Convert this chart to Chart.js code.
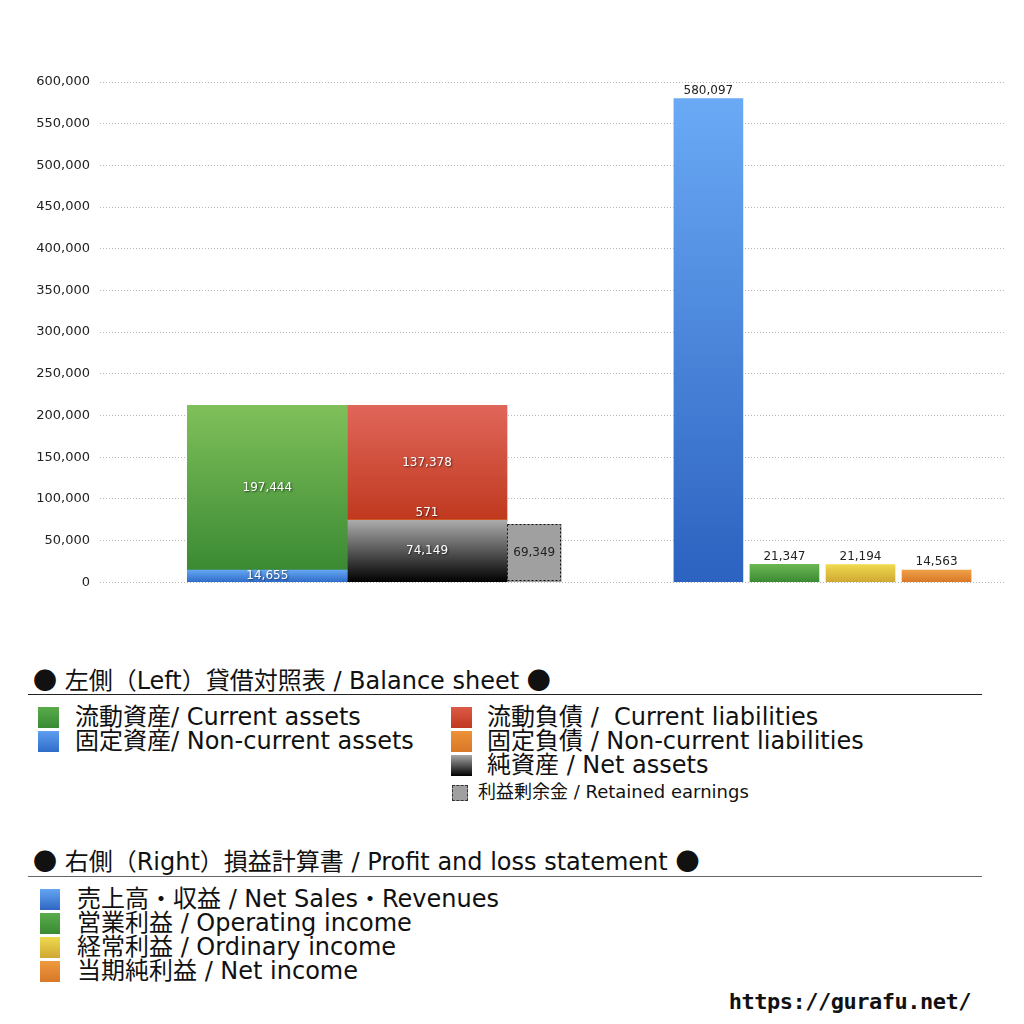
<!DOCTYPE html>
<html>
<head>
<meta charset="utf-8">
<script src="https://cdn.jsdelivr.net/npm/chart.js@4/dist/chart.umd.min.js"></script>
<style>
  body { margin: 0; background: #fff; font-family: "DejaVu Sans", "Noto Sans CJK JP", sans-serif; color: #111; }
  #wrap { position: absolute; left: 0; top: 0; width: 1024px; height: 600px; }
  .abs { position: absolute; white-space: nowrap; }
  .head { font-size: 24px; line-height: 24px; }
  .dot { font-family: "Noto Sans CJK JP", sans-serif; }
  .item { font-size: 24px; line-height: 24px; }
  .small { font-size: 18px; line-height: 18px; }
  .sq { position: absolute; width: 21px; height: 21px; }
  .rule { position: absolute; height: 1px; }
</style>
</head>
<body>
<div id="wrap"><canvas id="chart"></canvas></div>

<div class="abs head" style="left:33px; top:667px;"><span class="dot">●</span> 左側（Left）貸借対照表 / Balance sheet <span class="dot">●</span></div>
<div class="rule" style="left:28px; top:694px; width:954px; background:#222;"></div>

<div class="sq" style="left:38px; top:707px; background:linear-gradient(#5aab4a,#3a8a33);"></div>
<div class="abs item" style="left:75px; top:705px;">流動資産/ Current assets</div>
<div class="sq" style="left:38px; top:731px; background:linear-gradient(#5f9ef0,#2f6cc9);"></div>
<div class="abs item" style="left:75px; top:729px;">固定資産/ Non-current assets</div>

<div class="sq" style="left:451px; top:707px; background:linear-gradient(#dc5a48,#c0391f);"></div>
<div class="abs item" style="left:487px; top:705px;">流動負債 /&nbsp; Current liabilities</div>
<div class="sq" style="left:451px; top:731px; background:linear-gradient(#ec9238,#d87828);"></div>
<div class="abs item" style="left:487px; top:729px;">固定負債 / Non-current liabilities</div>
<div class="sq" style="left:451px; top:755px; background:linear-gradient(#a8a8a8,#000);"></div>
<div class="abs item" style="left:487px; top:753px;">純資産 / Net assets</div>
<div class="sq" style="left:452px; top:785px; width:14px; height:14px; background:#a0a0a0; border:1px dashed #333;"></div>
<div class="abs small" style="left:478px; top:783px;">利益剰余金 / Retained earnings</div>

<div class="abs head" style="left:33px; top:848px;"><span class="dot">●</span> 右側（Right）損益計算書 / Profit and loss statement <span class="dot">●</span></div>
<div class="rule" style="left:28px; top:876px; width:954px; background:#666;"></div>

<div class="sq" style="left:40px; top:889px; width:20px; background:linear-gradient(#64a6f2,#2f66c2);"></div>
<div class="abs item" style="left:77px; top:887px;">売上高・収益 / Net Sales・Revenues</div>
<div class="sq" style="left:40px; top:913px; width:20px; background:linear-gradient(#5aab4a,#3a8a33);"></div>
<div class="abs item" style="left:77px; top:911px;">営業利益 / Operating income</div>
<div class="sq" style="left:40px; top:937px; width:20px; background:linear-gradient(#efd94e,#cfa832);"></div>
<div class="abs item" style="left:77px; top:935px;">経常利益 / Ordinary income</div>
<div class="sq" style="left:40px; top:961px; width:20px; background:linear-gradient(#ee9a40,#d87828);"></div>
<div class="abs item" style="left:77px; top:959px;">当期純利益 / Net income</div>

<div class="abs" style="right:53px; top:989px; font-size:22px; font-weight:bold; font-family:'DejaVu Sans Mono','Noto Sans',sans-serif; letter-spacing:-0.5px;">https://gurafu.net/</div>

<script>
// 貸借対照表 (balance sheet)
const assetLabels = ['固定資産', '流動資産'];
const assetValues = [14655, 197444];
const liabilityLabels = ['純資産', '固定負債', '流動負債'];
const liabilityValues = [74149, 571, 137378];
const retainedLabel = ['利益剰余金'];
const retainedValue = [69349];

// 損益計算書 (profit and loss)
const plLabels = ['売上高・収益', '営業利益', '経常利益', '当期純利益'];
const plValues = [580097, 21347, 21194, 14563];

const yMax = 600000;
const yStep = 50000;

// slot positions on the hidden x scale
const slot = { assets: 2.2, liabilities: 4.3, retained: 5.71, pl: [8, 9, 10, 11] };

const assetColors = [['#64a6f2', '#2f6cc9'], ['#80c05a', '#3a8a33']];
const liabilityColors = [['#ababab', '#000000'], ['#ee9a40', '#d87828'], ['#e0665a', '#c0391f']];
const plColors = [['#6aaaf5', '#2c62c0'], ['#6ab752', '#3a8a33'], ['#efd94e', '#cfa832'], ['#f0a048', '#d87828']];

function vGrad(chart, from, to, cTop, cBottom) {
  const y = chart.scales.y;
  if (!chart.chartArea || !y) return cBottom;
  const yTop = y.getPixelForValue(to), yBot = y.getPixelForValue(from);
  if (!isFinite(yTop) || !isFinite(yBot) || Math.abs(yBot - yTop) < 0.5) return cBottom;
  const g = chart.ctx.createLinearGradient(0, yTop, 0, yBot);
  g.addColorStop(0, cTop);
  g.addColorStop(1, cBottom);
  return g;
}

function stackSets(labels, values, colors, x, stack, width, labelStyle) {
  let base = 0;
  return values.map((v, i) => {
    const from = base, to = base + v;
    base = to;
    return {
      label: labels[i], stack: stack, grouped: false, barThickness: width,
      data: [{ x: x, y: v }],
      backgroundColor: c => vGrad(c.chart, from, to, colors[i][0], colors[i][1]),
      labelStyle: labelStyle
    };
  });
}

const datasets = [
  ...stackSets(assetLabels, assetValues, assetColors, slot.assets, 'assets', 160, 'white'),
  ...stackSets(liabilityLabels, liabilityValues, liabilityColors, slot.liabilities, 'liab', 160, 'white'),
  {
    label: retainedLabel[0], stack: 're', grouped: false, barThickness: 54,
    data: [{ x: slot.retained, y: retainedValue[0] }],
    backgroundColor: '#a0a0a0', labelStyle: 'dark', dashed: true
  },
  {
    label: '損益計算書', stack: 'pl', grouped: false, barThickness: 69,
    data: plValues.map((v, i) => ({ x: slot.pl[i], y: v })),
    backgroundColor: c => vGrad(c.chart, 0, plValues[c.dataIndex] || 0, plColors[c.dataIndex][0], plColors[c.dataIndex][1]),
    labelStyle: 'top'
  }
];

const barLabels = {
  id: 'barLabels',
  afterDatasetsDraw(chart) {
    const ctx = chart.ctx;
    chart.data.datasets.forEach((ds, di) => {
      const meta = chart.getDatasetMeta(di);
      meta.data.forEach((bar, i) => {
        const v = ds.data[i].y;
        const left = bar.x - bar.width / 2, top = Math.min(bar.y, bar.base), h = Math.abs(bar.base - bar.y);
        if (ds.dashed) {
          ctx.save();
          ctx.strokeStyle = '#111';
          ctx.lineWidth = 1;
          ctx.setLineDash([2, 2]);
          ctx.strokeRect(Math.round(left) + 0.5, Math.round(top) + 0.5, Math.round(bar.width) - 1, Math.round(h) - 1);
          ctx.restore();
        }
        const text = v.toLocaleString('en-US');
        ctx.save();
        ctx.font = '12px "DejaVu Sans", sans-serif';
        ctx.textAlign = 'center';
        if (ds.labelStyle === 'top') {
          ctx.fillStyle = '#222';
          ctx.textBaseline = 'bottom';
          ctx.fillText(text, bar.x, top - 2);
        } else if (ds.labelStyle === 'dark') {
          ctx.fillStyle = '#222';
          ctx.textBaseline = 'middle';
          ctx.fillText(text, bar.x, top + h / 2);
        } else {
          ctx.fillStyle = '#fff';
          ctx.shadowColor = 'rgba(0,0,0,0.6)';
          ctx.shadowBlur = 2;
          ctx.shadowOffsetX = 1;
          ctx.shadowOffsetY = 1;
          if (h < 8) {
            ctx.textBaseline = 'bottom';
            ctx.fillText(text, bar.x, top - 1);
          } else {
            ctx.textBaseline = 'middle';
            ctx.fillText(text, bar.x, top + h / 2);
          }
        }
        ctx.restore();
      });
    });
  }
};

new Chart(document.getElementById('chart'), {
  type: 'bar',
  data: { datasets: datasets },
  plugins: [barLabels],
  options: {
    responsive: true,
    maintainAspectRatio: false,
    animation: false,
    layout: { padding: { top: 82, right: 19, bottom: 11, left: 0 } },
    plugins: { legend: { display: false }, tooltip: { enabled: false } },
    scales: {
      x: { type: 'linear', min: 0, max: 11.9, offset: false, display: false },
      y: {
        stacked: true, min: 0, max: yMax,
        afterFit(scale) { scale.width = 100; },
        border: { display: false, dash: [1, 2] },
        grid: { color: '#b8b8b8', drawTicks: false, lineWidth: 1 },
        ticks: {
          stepSize: yStep, padding: 10, color: '#222',
          font: { family: '"DejaVu Sans", sans-serif', size: 13 },
          callback: v => v.toLocaleString('en-US')
        }
      }
    }
  },
});
</script>
</body>
</html>
